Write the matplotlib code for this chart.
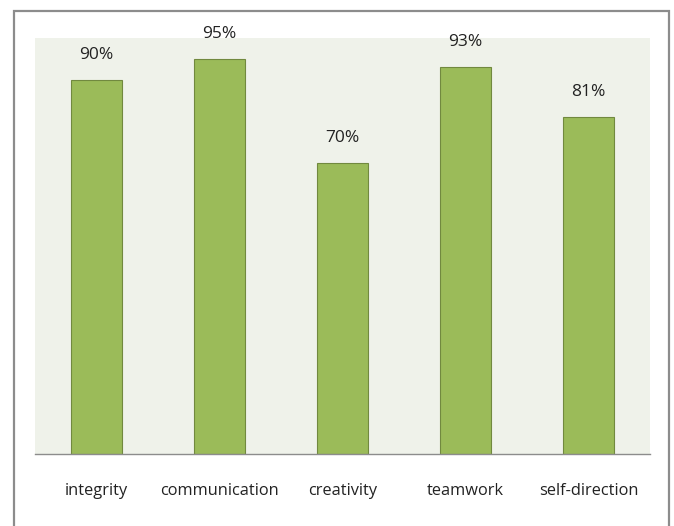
import matplotlib
matplotlib.use("Agg")
import matplotlib.pyplot as plt
from matplotlib.patches import Rectangle

categories = ["integrity", "communication", "creativity", "teamwork", "self-direction"]
values = [90, 95, 70, 93, 81]
labels = ["90%", "95%", "70%", "93%", "81%"]

plt.rcParams['font.family'] = ['Open Sans', 'DejaVu Sans']

fig = plt.figure(figsize=(6.74, 5.26), dpi=100)
fig.patch.set_facecolor("white")

# outer chart frame (bottom runs off the image)
frame = Rectangle((14 / 674, -0.05), 655 / 674, 1.05 - 11 / 526, transform=fig.transFigure,
                  fill=False, edgecolor="#8c8c8c", linewidth=1.6)
fig.patches.append(frame)

ax = fig.add_axes([35 / 674, 1 - 454 / 526, 615 / 674, 416 / 526])
ax.set_facecolor("#eff2ea")

x = range(len(categories))
ax.bar(x, values, width=0.41, color="#9bbb59", edgecolor="#71893f", linewidth=0.8)
for i, v in enumerate(values):
    ax.text(i, v + 4.0, labels[i], ha="center", va="bottom", fontsize=12.5, color="#222222")

ax.set_xlim(-0.5, len(categories) - 0.5)
ax.set_ylim(0, 100)
ax.set_xticks(list(x))
ax.set_xticklabels(categories, fontsize=11.8, color="#222222")
ax.tick_params(axis="x", length=0, pad=21)
ax.set_yticks([])
for s in ["top", "left", "right"]:
    ax.spines[s].set_visible(False)
ax.spines["bottom"].set_color("#8c8c8c")
ax.spines["bottom"].set_linewidth(1.0)

fig.savefig("out.png", dpi=100)
